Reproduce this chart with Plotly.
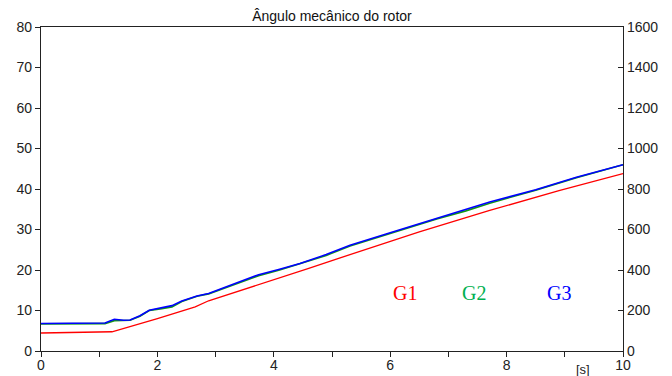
import plotly.graph_objects as go

# G3 (blue)
t_g3 = [0, 0.5, 1.1, 1.26, 1.42, 1.53, 1.7, 1.86, 2.05, 2.25, 2.42, 2.68, 2.88, 3.2, 3.74, 4.1, 4.45, 4.9, 5.31, 6.0, 6.8, 7.71, 8.5, 9.2, 10]
v_g3 = [6.8, 6.85, 6.9, 7.85, 7.6, 7.65, 8.7, 10.05, 10.6, 11.2, 12.35, 13.6, 14.2, 16.0, 18.85, 20.2, 21.6, 23.8, 26.1, 29.2, 32.8, 36.8, 39.8, 42.9, 46.0]
# G2 (green)
t_g2 = [0, 0.5, 1.1, 1.26, 1.42, 1.53, 1.7, 1.86, 2.05, 2.25, 2.42, 2.68, 2.88, 3.2, 3.6, 3.74, 4.1, 4.45, 4.9, 5.31, 6.0, 6.8, 7.3, 7.71, 8.5, 9.2, 10]
v_g2 = [6.7, 6.75, 6.75, 7.5, 7.55, 7.6, 8.6, 10.0, 10.4, 10.9, 12.2, 13.5, 14.1, 15.8, 18.0, 18.6, 20.0, 21.5, 23.6, 25.9, 29.0, 32.6, 34.6, 36.5, 39.7, 42.8, 46.0]
# G1 (red)
t_g1 = [0, 1.22, 2.0, 2.65, 2.88, 3.4, 4.0, 4.6, 5.14, 5.31, 6.5, 7.71, 8.9, 10]
v_g1 = [4.45, 4.75, 8.0, 10.9, 12.4, 14.8, 17.5, 20.4, 23.0, 23.8, 29.4, 34.7, 39.6, 43.8]

x_ticks = list(range(0, 11))
x_ticktext = [str(v) if v % 2 == 0 else "" for v in x_ticks]
labels = ["G1", "G2", "G3"]
label_x = [6.25, 7.44, 8.9]
label_y = 14.2
label_colors = ["#ff0000", "#00b050", "#0000ff"]

fig = go.Figure()
fig.add_trace(go.Scatter(x=t_g2, y=v_g2, mode="lines", line=dict(color="#129a12", width=1.6), showlegend=False))
fig.add_trace(go.Scatter(x=t_g3, y=v_g3, mode="lines", line=dict(color="#0000ff", width=1.6), showlegend=False))
fig.add_trace(go.Scatter(x=t_g1, y=v_g1, mode="lines", line=dict(color="#ff0000", width=1.3), showlegend=False))
# invisible trace for right axis
fig.add_trace(go.Scatter(x=[0], y=[0], yaxis="y2", mode="markers", marker=dict(opacity=0), showlegend=False, hoverinfo="skip"))

for lab, lx, c in zip(labels, label_x, label_colors):
    fig.add_annotation(x=lx, y=label_y, xref="x", yref="y", text=lab, showarrow=False,
                       font=dict(family="Liberation Serif", size=20, color=c))

fig.add_annotation(x=9.31, y=0, xref="x", yref="paper", yanchor="top", yshift=-9, text="[s]",
                   showarrow=False, font=dict(family="Liberation Sans", size=13, color="#222"))

axis_font = dict(family="Liberation Sans", size=14, color="#222")
fig.update_layout(
    width=672, height=376,
    margin=dict(l=41, r=49, t=27, b=25),
    paper_bgcolor="white", plot_bgcolor="white",
    title=dict(text="Ângulo mecânico do rotor", x=0.494, xanchor="center", y=1 - 16 / 376, yanchor="middle",
               font=dict(family="Liberation Sans", size=14, color="#111")),
    xaxis=dict(range=[0, 10], tickvals=x_ticks, ticktext=x_ticktext, ticks="outside", ticklen=5,
               tickcolor="#222", showline=True, linecolor="#222", linewidth=1.3, mirror=True,
               showgrid=False, zeroline=False, tickfont=axis_font, ticklabelstandoff=-4,
               automargin=False),
    yaxis=dict(range=[0, 80], dtick=10, ticks="outside", ticklen=5, tickcolor="#222",
               showline=True, linecolor="#222", linewidth=1.3, showgrid=False, zeroline=False,
               tickfont=axis_font, automargin=False),
    yaxis2=dict(range=[0, 1600], dtick=200, overlaying="y", side="right", ticks="inside", ticklen=5,
                tickcolor="#222", showline=True, linecolor="#222", linewidth=1.3, showgrid=False,
                zeroline=False, tickfont=axis_font, automargin=False),
)

fig.write_html("out.html")
